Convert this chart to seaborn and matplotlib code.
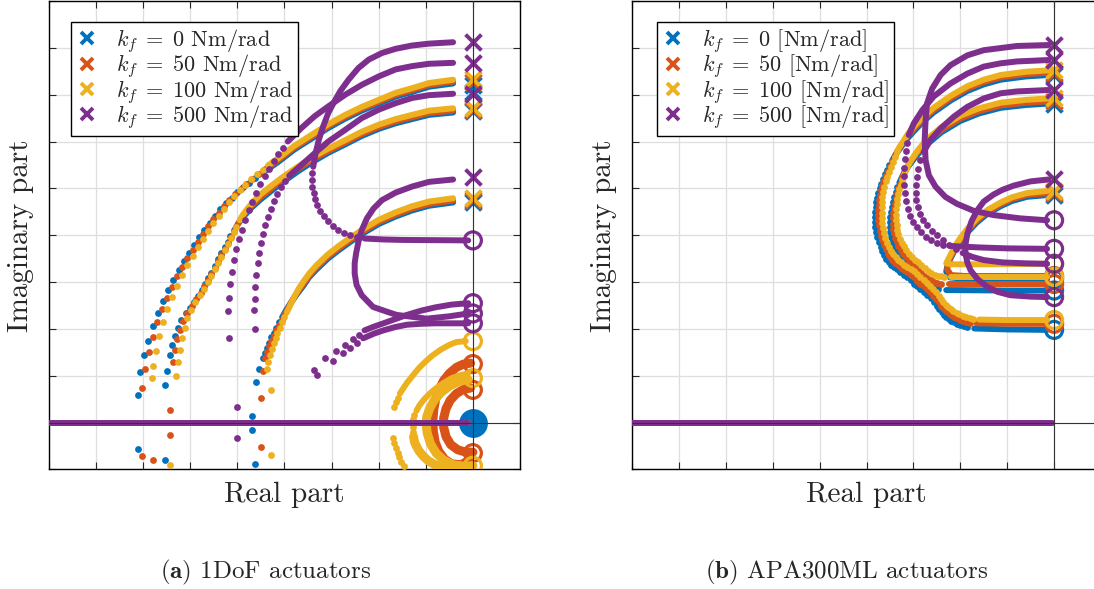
import numpy as np
import pandas as pd
import seaborn as sns
import matplotlib.pyplot as plt
from matplotlib.lines import Line2D

BLUE, ORANGE, YELLOW, PURPLE = '#0072BD', '#D95319', '#EDB120', '#7E2F8E'
kf_values = [0, 50, 100, 500]

# ---------------- (a) 1DoF actuators ----------------
a_axis = [(-9.0, 0.0), (-0.1, 0.0)]

a_blue_poles = [7.2, 7.05, 6.65, 4.72]
a_blue_zeros = [0.0]
a_blue_A_line = [(-0.42, 7.24), (-0.93, 7.17), (-1.29, 7.06), (-1.64, 6.96), (-2.0, 6.81), (-2.36, 6.66),
                 (-2.71, 6.49), (-3.07, 6.29), (-3.43, 6.06), (-3.79, 5.83), (-4.14, 5.56), (-4.5, 5.31)]
a_blue_A_dots = [(-4.62, 5.22), (-4.75, 5.12), (-4.88, 5.02), (-5.0, 4.92), (-5.12, 4.8), (-5.24, 4.68), (-5.36, 4.55),
                 (-5.48, 4.41), (-5.59, 4.27), (-5.7, 4.12), (-5.81, 3.96), (-5.92, 3.8), (-6.03, 3.62), (-6.14, 3.44),
                 (-6.25, 3.25), (-6.36, 3.05), (-6.47, 2.83), (-6.58, 2.6), (-6.69, 2.35), (-6.8, 2.06), (-6.9, 1.75),
                 (-6.98, 1.44), (-7.06, 1.09), (-7.12, 0.6), (-7.12, -0.57)]
a_blue_B_line = [(-0.42, 6.62), (-0.93, 6.57), (-1.29, 6.48), (-1.64, 6.39), (-2.0, 6.27), (-2.36, 6.12),
                 (-2.71, 5.94), (-3.07, 5.76), (-3.43, 5.55), (-3.72, 5.36), (-4.0, 5.16), (-4.25, 4.97),
                 (-4.5, 4.77), (-4.7, 4.59), (-4.86, 4.41), (-4.98, 4.25), (-5.07, 4.1)]
a_blue_B_dots = [(-5.15, 3.98), (-5.21, 3.86), (-5.27, 3.75), (-5.34, 3.62), (-5.41, 3.5), (-5.48, 3.35),
                 (-5.55, 3.2), (-5.62, 3.08), (-5.69, 2.97), (-5.76, 2.84), (-5.83, 2.7), (-5.92, 2.57),
                 (-6.0, 2.45), (-6.1, 2.33), (-6.2, 2.2), (-6.27, 2.02), (-6.33, 1.85), (-6.38, 1.65),
                 (-6.43, 1.44), (-6.5, 1.1), (-6.54, 0.8), (-6.54, -0.8)]
a_blue_C_line = [(-0.42, 4.7), (-0.93, 4.63), (-1.29, 4.53), (-1.64, 4.4), (-2.0, 4.24), (-2.3, 4.06), (-2.6, 3.86),
                 (-2.85, 3.68), (-3.08, 3.5), (-3.32, 3.27), (-3.48, 3.1), (-3.6, 2.92), (-3.73, 2.75),
                 (-3.85, 2.58), (-3.96, 2.41), (-4.05, 2.25)]
a_blue_C_dots = [(-4.11, 2.14), (-4.17, 2.03), (-4.23, 1.92), (-4.28, 1.82), (-4.33, 1.71), (-4.38, 1.6),
                 (-4.42, 1.49), (-4.46, 1.38), (-4.54, 1.14), (-4.61, 0.87), (-4.7, 0.15), (-4.7, -0.15),
                 (-4.63, -0.88)]

a_orange_poles = [7.28, 6.68, 4.76]
a_orange_zeros = [1.25, 0.7, -0.65]
a_orange_A_line = [(-0.42, 7.28), (-0.93, 7.21), (-1.29, 7.1), (-1.64, 7.0), (-2.0, 6.85), (-2.36, 6.7),
                   (-2.71, 6.53), (-3.07, 6.33), (-3.43, 6.1), (-3.79, 5.87), (-4.14, 5.6), (-4.45, 5.38)]
a_orange_A_dots = [(-4.55, 5.3), (-4.68, 5.2), (-4.81, 5.1), (-4.93, 4.99), (-5.05, 4.87), (-5.17, 4.75),
                   (-5.29, 4.62), (-5.4, 4.48), (-5.51, 4.34), (-5.62, 4.19), (-5.73, 4.03), (-5.84, 3.86),
                   (-5.95, 3.69), (-6.06, 3.51), (-6.17, 3.32), (-6.28, 3.12), (-6.39, 2.9), (-6.5, 2.67),
                   (-6.6, 2.42), (-6.7, 2.14), (-6.8, 1.83), (-6.88, 1.5), (-6.96, 1.15), (-7.03, 0.75),
                   (-7.03, -0.72)]
a_orange_B_line = [(-0.42, 6.66), (-0.93, 6.61), (-1.29, 6.52), (-1.64, 6.43), (-2.0, 6.31), (-2.36, 6.16),
                   (-2.71, 5.98), (-3.07, 5.8), (-3.43, 5.6), (-3.72, 5.41), (-4.0, 5.22), (-4.25, 5.02),
                   (-4.5, 4.82), (-4.68, 4.65), (-4.83, 4.48), (-4.93, 4.34), (-5.0, 4.22)]
a_orange_B_dots = [(-5.08, 4.08), (-5.14, 3.96), (-5.2, 3.84), (-5.27, 3.71), (-5.34, 3.58), (-5.41, 3.44),
                   (-5.48, 3.3), (-5.55, 3.17), (-5.62, 3.05), (-5.7, 2.91), (-5.78, 2.77), (-5.87, 2.63),
                   (-5.96, 2.49), (-6.06, 2.35), (-6.15, 2.18), (-6.22, 1.98), (-6.28, 1.78), (-6.33, 1.55),
                   (-6.37, 1.3), (-6.43, 0.27), (-6.43, -0.27), (-6.79, -0.8)]
a_orange_C_line = [(-0.42, 4.74), (-0.93, 4.67), (-1.29, 4.57), (-1.64, 4.44), (-2.0, 4.28), (-2.3, 4.1),
                   (-2.6, 3.9), (-2.85, 3.72), (-3.08, 3.54), (-3.32, 3.31), (-3.47, 3.14), (-3.6, 2.96),
                   (-3.72, 2.79), (-3.83, 2.62), (-3.92, 2.45), (-4.0, 2.3)]
a_orange_C_dots = [(-4.06, 2.19), (-4.12, 2.08), (-4.18, 1.97), (-4.23, 1.86), (-4.28, 1.75), (-4.33, 1.63),
                   (-4.37, 1.51), (-4.41, 1.38), (-4.45, 1.1), (-4.49, 0.52), (-4.49, -0.51)]
a_orange_C1 = [(-0.05, 1.27), (-0.2, 1.25), (-0.35, 1.18), (-0.5, 1.05), (-0.62, 0.9), (-0.72, 0.7), (-0.79, 0.5),
               (-0.83, 0.28), (-0.85, 0.05), (-0.84, -0.18), (-0.8, -0.42), (-0.72, -0.62), (-0.6, -0.78),
               (-0.45, -0.88), (-0.25, -0.9), (-0.08, -0.8)]
a_orange_C2 = [(-0.05, 0.74), (-0.2, 0.71), (-0.35, 0.62), (-0.48, 0.48), (-0.57, 0.3), (-0.62, 0.1), (-0.62, -0.1),
               (-0.57, -0.3), (-0.47, -0.47), (-0.32, -0.58), (-0.15, -0.63), (0.0, -0.63)]

a_yellow_poles = [7.33, 6.71, 4.8]
a_yellow_zeros = [1.74, 0.95, -0.92]
a_yellow_A_line = [(-0.42, 7.32), (-0.93, 7.25), (-1.29, 7.14), (-1.64, 7.04), (-2.0, 6.89), (-2.36, 6.74),
                   (-2.71, 6.57), (-3.07, 6.37), (-3.43, 6.14), (-3.79, 5.91), (-4.14, 5.64), (-4.35, 5.49)]
a_yellow_A_dots = [(-4.45, 5.4), (-4.58, 5.3), (-4.71, 5.19), (-4.83, 5.08), (-4.95, 4.96), (-5.07, 4.83),
                   (-5.18, 4.7), (-5.29, 4.56), (-5.4, 4.41), (-5.51, 4.26), (-5.62, 4.1), (-5.73, 3.93),
                   (-5.84, 3.75), (-5.95, 3.56), (-6.06, 3.36), (-6.17, 3.15), (-6.28, 2.92), (-6.39, 2.68),
                   (-6.49, 2.42), (-6.58, 2.14), (-6.66, 1.84), (-6.73, 1.52), (-6.8, 1.2), (-6.82, 0.95),
                   (-6.43, -0.9)]
a_yellow_B_line = [(-0.42, 6.71), (-0.93, 6.66), (-1.29, 6.57), (-1.64, 6.48), (-2.0, 6.36), (-2.36, 6.21),
                   (-2.71, 6.03), (-3.07, 5.85), (-3.43, 5.65), (-3.72, 5.46), (-4.0, 5.27), (-4.25, 5.08),
                   (-4.5, 4.88), (-4.66, 4.72), (-4.8, 4.55), (-4.89, 4.43), (-4.95, 4.32)]
a_yellow_B_dots = [(-5.02, 4.18), (-5.08, 4.06), (-5.14, 3.94), (-5.2, 3.81), (-5.27, 3.68), (-5.34, 3.54),
                   (-5.41, 3.4), (-5.48, 3.27), (-5.55, 3.14), (-5.63, 3.0), (-5.71, 2.86), (-5.8, 2.72),
                   (-5.89, 2.57), (-5.98, 2.41), (-6.06, 2.23), (-6.12, 2.03), (-6.17, 1.8), (-6.22, 1.55),
                   (-6.26, 1.3), (-6.3, 1.0)]
a_yellow_C_line = [(-0.42, 4.79), (-0.93, 4.72), (-1.29, 4.62), (-1.64, 4.49), (-2.0, 4.33), (-2.3, 4.15),
                   (-2.6, 3.95), (-2.85, 3.77), (-3.08, 3.59), (-3.32, 3.36), (-3.47, 3.19), (-3.6, 3.01),
                   (-3.71, 2.84), (-3.8, 2.67), (-3.88, 2.5), (-3.95, 2.35)]
a_yellow_C_dots = [(-4.0, 2.25), (-4.05, 2.14), (-4.1, 2.03), (-4.15, 1.92), (-4.19, 1.81), (-4.23, 1.69),
                   (-4.27, 1.57), (-4.31, 1.44), (-4.35, 1.3), (-4.38, 1.15), (-4.28, 0.7), (-4.28, -0.69)]
a_yellow_Y1_line = [(-0.15, 1.74), (-0.35, 1.72), (-0.5, 1.66), (-0.68, 1.56), (-0.85, 1.44), (-1.0, 1.31),
                    (-1.15, 1.16), (-1.28, 1.0), (-1.4, 0.85), (-1.48, 0.73), (-1.55, 0.62)]
a_yellow_Y1_dots = [(-1.6, 0.53), (-1.64, 0.44), (-1.68, 0.34), (-1.69, -0.33), (-1.67, -0.44), (-1.64, -0.55),
                    (-1.6, -0.65), (-1.56, -0.74), (-1.52, -0.83), (-1.47, -0.93)]
a_yellow_Y2_line = [(-0.1, 1.05), (-0.28, 1.01), (-0.45, 0.95), (-0.62, 0.85), (-0.8, 0.72), (-0.93, 0.61),
                    (-1.05, 0.48), (-1.14, 0.36), (-1.2, 0.25)]
a_yellow_Y2_dots = [(-1.24, 0.16), (-1.27, 0.07), (-1.28, -0.1), (-1.28, -0.2)]
a_yellow_Y2_low = [(-1.26, -0.3), (-1.24, -0.41), (-1.2, -0.5), (-1.14, -0.61), (-1.05, -0.72), (-0.94, -0.82),
                   (-0.8, -0.9), (-0.62, -0.96), (-0.45, -1.0)]
a_yellow_Y3 = [(-0.1, 0.92), (-0.3, 0.88), (-0.5, 0.78), (-0.68, 0.64), (-0.82, 0.48), (-0.92, 0.3), (-0.98, 0.12),
               (-0.99, -0.05), (-0.97, -0.22), (-0.9, -0.45), (-0.78, -0.65), (-0.62, -0.8), (-0.42, -0.9),
               (-0.2, -0.93), (0.0, -0.92)]

a_purple_poles = [8.12, 7.68, 7.02, 5.25]
a_purple_zeros = [3.89, 2.55, 2.33, 2.12]
a_purple_P1_line = [(-0.42, 8.12), (-0.93, 8.09), (-1.29, 8.05), (-1.64, 7.98), (-1.93, 7.89), (-2.21, 7.75),
                    (-2.43, 7.57), (-2.64, 7.32), (-2.82, 7.07), (-2.96, 6.82), (-3.07, 6.61), (-3.18, 6.32),
                    (-3.27, 6.04), (-3.34, 5.75), (-3.39, 5.46)]
a_purple_P1_dots = [(-3.42, 5.32), (-3.42, 5.18), (-3.41, 5.04), (-3.38, 4.9), (-3.35, 4.77), (-3.3, 4.64),
                    (-3.24, 4.52), (-3.16, 4.41), (-3.07, 4.3), (-2.97, 4.2), (-2.86, 4.12), (-2.74, 4.05),
                    (-2.6, 4.0), (-2.46, 3.96)]
a_purple_P1_tail = [(-2.3, 3.93), (-1.9, 3.91), (-1.5, 3.9), (-0.1, 3.89)]
a_purple_P2_line = [(-0.42, 7.68), (-0.93, 7.66), (-1.29, 7.61), (-1.64, 7.54), (-2.0, 7.39), (-2.36, 7.21),
                    (-2.71, 7.0), (-3.07, 6.75), (-3.36, 6.54), (-3.64, 6.29), (-3.93, 6.0)]
a_purple_P2_dots = [(-4.03, 5.87), (-4.13, 5.73), (-4.23, 5.58), (-4.33, 5.42), (-4.42, 5.26), (-4.51, 5.09),
                    (-4.6, 4.91), (-4.68, 4.72), (-4.76, 4.53), (-4.84, 4.33), (-4.91, 4.12), (-4.97, 3.92),
                    (-5.03, 3.7), (-5.08, 3.47), (-5.12, 3.22), (-5.15, 2.95), (-5.18, 2.67), (-5.2, 2.38),
                    (-5.17, 1.8), (-5.0, 0.33), (-5.0, -0.33)]
a_purple_P3_line = [(-0.42, 7.02), (-0.93, 6.99), (-1.29, 6.93), (-1.64, 6.82), (-2.0, 6.68), (-2.36, 6.5),
                    (-2.71, 6.25), (-3.07, 6.0), (-3.36, 5.75), (-3.64, 5.5), (-3.9, 5.27)]
a_purple_P3_dots = [(-3.99, 5.15), (-4.07, 5.02), (-4.15, 4.88), (-4.22, 4.73), (-4.29, 4.57), (-4.35, 4.4),
                    (-4.41, 4.22), (-4.46, 4.03), (-4.5, 3.83), (-4.54, 3.62), (-4.57, 3.4), (-4.6, 3.16),
                    (-4.62, 2.9), (-4.63, 2.64), (-4.64, 2.4), (-4.63, 2.0)]
a_purple_P4_line = [(-0.42, 5.19), (-0.93, 5.14), (-1.29, 5.04), (-1.64, 4.91), (-1.93, 4.75), (-2.11, 4.57),
                    (-2.25, 4.36), (-2.36, 4.11), (-2.43, 3.86), (-2.48, 3.61), (-2.51, 3.4), (-2.51, 3.18),
                    (-2.47, 2.94), (-2.36, 2.72), (-2.12, 2.47), (-1.83, 2.37), (-1.62, 2.3), (-0.98, 2.22),
                    (-0.5, 2.27), (-0.1, 2.33)]
a_purple_T1_dots = [(-3.38, 1.12), (-3.13, 1.37), (-2.9, 1.53), (-2.72, 1.65), (-2.55, 1.78), (-2.42, 1.88)]
a_purple_T1_line = [(-2.3, 1.97), (-2.1, 2.05), (-1.9, 2.12), (-1.65, 2.21), (-1.4, 2.3), (-1.1, 2.39),
                    (-0.8, 2.46), (-0.45, 2.52), (-0.1, 2.55)]
a_purple_T2_dots = [(-3.31, 1.02), (-2.98, 1.32), (-2.76, 1.48), (-2.6, 1.6), (-2.47, 1.7)]
a_purple_T2_line = [(-2.33, 1.8), (-2.1, 1.9), (-1.9, 1.97), (-1.65, 2.04), (-1.4, 2.09), (-1.1, 2.11),
                    (-0.8, 2.12), (-0.1, 2.12)]

# ---------------- (b) APA300ML actuators ----------------
b_axis = [(-9.0, 0.0), (-0.05, 0.0)]

b_blue_poles = [7.42, 6.81, 4.86]
b_blue_zeros = [1.98, 2.82, 3.06]
b_blue_R1_line = [(-0.12, 7.42), (-0.6, 7.39), (-1.14, 7.32), (-1.5, 7.22), (-1.85, 7.08), (-2.2, 6.88),
                  (-2.57, 6.62), (-2.8, 6.42), (-2.99, 6.22), (-3.15, 6.04), (-3.28, 5.86), (-3.38, 5.72),
                  (-3.45, 5.6)]
b_blue_R1_dots = [(-3.51, 5.5), (-3.56, 5.4), (-3.61, 5.3), (-3.65, 5.2), (-3.69, 5.1), (-3.72, 5.0), (-3.75, 4.9),
                  (-3.77, 4.8), (-3.79, 4.7), (-3.8, 4.6), (-3.81, 4.5), (-3.81, 4.39), (-3.81, 4.28),
                  (-3.81, 4.18), (-3.8, 4.07), (-3.77, 3.96), (-3.74, 3.85), (-3.7, 3.75), (-3.67, 3.66),
                  (-3.63, 3.57), (-3.58, 3.5), (-3.53, 3.43), (-3.48, 3.37), (-3.42, 3.32), (-3.35, 3.27),
                  (-3.28, 3.22), (-3.2, 3.16), (-3.13, 3.11), (-3.06, 3.04), (-2.99, 2.97), (-2.92, 2.91),
                  (-2.85, 2.85), (-2.77, 2.78), (-2.7, 2.72), (-2.63, 2.65), (-2.56, 2.57), (-2.5, 2.5),
                  (-2.45, 2.43), (-2.4, 2.36), (-2.35, 2.3), (-2.3, 2.26), (-2.25, 2.22), (-2.2, 2.18),
                  (-2.14, 2.15), (-2.07, 2.11), (-2.0, 2.08), (-1.92, 2.06), (-1.85, 2.04)]
b_blue_R1_tail = [(-1.7, 2.01), (-1.0, 1.99), (-0.15, 1.98)]
b_blue_R2_line = [(-0.12, 6.81), (-0.6, 6.78), (-1.14, 6.72), (-1.6, 6.6), (-2.0, 6.44), (-2.4, 6.2),
                  (-2.71, 5.94), (-2.95, 5.68), (-3.13, 5.44), (-3.23, 5.27), (-3.3, 5.12)]
b_blue_R2_dots = [(-3.34, 5.02), (-3.38, 4.92), (-3.41, 4.82), (-3.44, 4.72), (-3.46, 4.61), (-3.48, 4.5),
                  (-3.49, 4.39), (-3.5, 4.28), (-3.5, 4.17), (-3.49, 4.06), (-3.47, 3.96), (-3.45, 3.86),
                  (-3.42, 3.77), (-3.38, 3.68), (-3.33, 3.6), (-3.28, 3.52), (-3.22, 3.45), (-3.15, 3.38),
                  (-3.09, 3.31), (-3.02, 3.24), (-2.95, 3.17), (-2.88, 3.1), (-2.82, 3.04), (-2.75, 2.98),
                  (-2.68, 2.94), (-2.62, 2.9), (-2.55, 2.87), (-2.48, 2.85)]
b_blue_R2_tail = [(-2.3, 2.83), (-1.0, 2.82), (-0.15, 2.82)]
b_blue_R3_line = [(-0.12, 4.86), (-0.58, 4.82), (-0.9, 4.73), (-1.14, 4.62), (-1.42, 4.46), (-1.64, 4.28),
                  (-1.84, 4.07), (-2.0, 3.86), (-2.12, 3.68), (-2.21, 3.5), (-2.28, 3.33), (-2.3, 3.22),
                  (-2.22, 3.1), (-1.9, 3.07), (-0.15, 3.06)]

b_orange_poles = [7.47, 6.86, 4.9]
b_orange_zeros = [2.11, 2.96, 3.13]
b_orange_R1_line = [(-0.12, 7.47), (-0.6, 7.44), (-1.14, 7.37), (-1.5, 7.27), (-1.85, 7.13), (-2.2, 6.93),
                    (-2.57, 6.67), (-2.8, 6.47), (-2.99, 6.27), (-3.14, 6.1), (-3.25, 5.93), (-3.34, 5.8),
                    (-3.4, 5.68)]
b_orange_R1_dots = [(-3.45, 5.58), (-3.5, 5.48), (-3.55, 5.38), (-3.59, 5.28), (-3.63, 5.17), (-3.66, 5.07),
                    (-3.69, 4.96), (-3.71, 4.86), (-3.73, 4.75), (-3.74, 4.65), (-3.75, 4.54), (-3.75, 4.43),
                    (-3.75, 4.32), (-3.74, 4.21), (-3.72, 4.1), (-3.7, 3.99), (-3.67, 3.89), (-3.63, 3.79),
                    (-3.59, 3.7), (-3.55, 3.61), (-3.5, 3.54), (-3.45, 3.47), (-3.39, 3.41), (-3.33, 3.36),
                    (-3.26, 3.31), (-3.2, 3.26), (-3.13, 3.21), (-3.06, 3.16), (-2.99, 3.1), (-2.92, 3.03),
                    (-2.85, 2.97), (-2.78, 2.91), (-2.71, 2.85), (-2.64, 2.78), (-2.58, 2.71), (-2.52, 2.64),
                    (-2.46, 2.57), (-2.41, 2.5), (-2.36, 2.44), (-2.31, 2.38), (-2.25, 2.34), (-2.2, 2.3),
                    (-2.14, 2.26), (-2.08, 2.23), (-2.01, 2.2), (-1.95, 2.17), (-1.88, 2.15), (-1.8, 2.13)]
b_orange_R1_tail = [(-1.65, 2.12), (-1.0, 2.11), (-0.15, 2.11)]
b_orange_R2_line = [(-0.12, 6.86), (-0.6, 6.83), (-1.14, 6.77), (-1.6, 6.65), (-2.0, 6.49), (-2.4, 6.25),
                    (-2.71, 5.99), (-2.93, 5.75), (-3.1, 5.52), (-3.19, 5.35), (-3.25, 5.2)]
b_orange_R2_dots = [(-3.29, 5.1), (-3.32, 5.0), (-3.35, 4.9), (-3.38, 4.8), (-3.4, 4.69), (-3.42, 4.58),
                    (-3.43, 4.47), (-3.44, 4.36), (-3.44, 4.25), (-3.43, 4.14), (-3.41, 4.04), (-3.39, 3.94),
                    (-3.36, 3.85), (-3.32, 3.76), (-3.27, 3.68), (-3.22, 3.6), (-3.16, 3.53), (-3.1, 3.46),
                    (-3.04, 3.39), (-2.97, 3.33), (-2.9, 3.26), (-2.83, 3.2), (-2.77, 3.14), (-2.7, 3.08),
                    (-2.63, 3.04), (-2.56, 3.0), (-2.49, 2.98), (-2.42, 2.97)]
b_orange_R2_tail = [(-2.25, 2.96), (-1.0, 2.96), (-0.15, 2.96)]
b_orange_R3_line = [(-0.12, 4.9), (-0.58, 4.86), (-0.9, 4.77), (-1.14, 4.66), (-1.42, 4.5), (-1.64, 4.32),
                    (-1.84, 4.11), (-2.0, 3.9), (-2.11, 3.72), (-2.2, 3.55), (-2.26, 3.39), (-2.28, 3.28),
                    (-2.2, 3.15), (-1.9, 3.13), (-0.15, 3.13)]

b_yellow_poles = [7.52, 6.92, 4.95]
b_yellow_zeros = [2.19, 3.11, 3.39]
b_yellow_R1_line = [(-0.12, 7.52), (-0.6, 7.49), (-1.14, 7.42), (-1.5, 7.32), (-1.85, 7.18), (-2.2, 6.98),
                    (-2.57, 6.72), (-2.8, 6.52), (-2.99, 6.32), (-3.12, 6.16), (-3.22, 6.0), (-3.3, 5.88),
                    (-3.35, 5.76)]
b_yellow_R1_dots = [(-3.4, 5.66), (-3.44, 5.56), (-3.48, 5.46), (-3.52, 5.36), (-3.56, 5.25), (-3.59, 5.15),
                    (-3.62, 5.04), (-3.64, 4.93), (-3.66, 4.82), (-3.67, 4.71), (-3.68, 4.6), (-3.68, 4.48),
                    (-3.68, 4.37), (-3.67, 4.26), (-3.65, 4.15), (-3.63, 4.04), (-3.6, 3.94), (-3.56, 3.84),
                    (-3.52, 3.75), (-3.48, 3.67), (-3.43, 3.6), (-3.38, 3.53), (-3.32, 3.47), (-3.26, 3.42),
                    (-3.19, 3.37), (-3.13, 3.33), (-3.06, 3.28), (-2.99, 3.23), (-2.92, 3.17), (-2.85, 3.11),
                    (-2.78, 3.04), (-2.71, 2.98), (-2.64, 2.91), (-2.58, 2.85), (-2.52, 2.78), (-2.46, 2.71),
                    (-2.41, 2.64), (-2.36, 2.58), (-2.31, 2.52), (-2.26, 2.46), (-2.2, 2.42), (-2.15, 2.38),
                    (-2.08, 2.34), (-2.02, 2.31), (-1.95, 2.28), (-1.88, 2.25), (-1.8, 2.23), (-1.73, 2.22)]
b_yellow_R1_tail = [(-1.6, 2.2), (-1.0, 2.19), (-0.15, 2.19)]
b_yellow_R2_line = [(-0.12, 6.92), (-0.6, 6.89), (-1.14, 6.83), (-1.6, 6.71), (-2.0, 6.55), (-2.4, 6.31),
                    (-2.71, 6.05), (-2.9, 5.82), (-3.05, 5.6), (-3.14, 5.43), (-3.2, 5.28)]
b_yellow_R2_dots = [(-3.24, 5.18), (-3.27, 5.08), (-3.3, 4.98), (-3.32, 4.88), (-3.34, 4.77), (-3.36, 4.66),
                    (-3.37, 4.55), (-3.37, 4.44), (-3.37, 4.33), (-3.36, 4.22), (-3.34, 4.12), (-3.32, 4.02),
                    (-3.29, 3.93), (-3.25, 3.84), (-3.2, 3.76), (-3.15, 3.68), (-3.09, 3.61), (-3.03, 3.54),
                    (-2.97, 3.48), (-2.9, 3.42), (-2.83, 3.36), (-2.76, 3.3), (-2.69, 3.24), (-2.62, 3.19),
                    (-2.55, 3.15), (-2.48, 3.13), (-2.41, 3.12), (-2.35, 3.11)]
b_yellow_R2_tail = [(-2.2, 3.11), (-1.0, 3.11), (-0.15, 3.11)]
b_yellow_R3_line = [(-0.12, 4.95), (-0.58, 4.9), (-0.9, 4.81), (-1.14, 4.7), (-1.42, 4.54), (-1.64, 4.36),
                    (-1.84, 4.15), (-2.0, 3.94), (-2.12, 3.76), (-2.21, 3.58), (-2.27, 3.46), (-2.3, 3.4),
                    (-2.2, 3.38), (-1.5, 3.38), (-0.15, 3.39)]

b_purple_poles = [8.06, 7.74, 7.1, 5.21]
b_purple_zeros = [4.32, 3.71, 3.39, 2.68]
b_purple_Q1_line = [(-0.12, 8.06), (-0.79, 8.04), (-1.5, 7.95), (-1.85, 7.84), (-2.21, 7.63), (-2.42, 7.42),
                    (-2.6, 7.13), (-2.71, 6.81), (-2.74, 6.46), (-2.76, 6.03), (-2.74, 5.6), (-2.67, 5.28),
                    (-2.53, 5.04), (-2.32, 4.82), (-2.07, 4.67), (-1.71, 4.52), (-1.29, 4.43), (-0.72, 4.36),
                    (-0.15, 4.32)]
b_purple_Q2_line = [(-0.12, 7.74), (-0.79, 7.71), (-1.14, 7.67), (-1.5, 7.6), (-1.85, 7.45), (-2.21, 7.24),
                    (-2.57, 6.96), (-2.81, 6.67), (-2.99, 6.39), (-3.1, 6.14)]
b_purple_Q2_dots = [(-3.13, 5.97), (-3.16, 5.8), (-3.18, 5.62), (-3.2, 5.44), (-3.2, 5.26), (-3.2, 5.08),
                    (-3.18, 4.91), (-3.16, 4.74), (-3.12, 4.57), (-3.07, 4.42), (-3.0, 4.29), (-2.92, 4.17),
                    (-2.83, 4.06), (-2.73, 3.97), (-2.62, 3.9), (-2.5, 3.84), (-2.37, 3.8)]
b_purple_Q2_tail = [(-2.2, 3.77), (-1.6, 3.74), (-1.0, 3.72), (-0.15, 3.71)]
b_purple_Q3_line = [(-0.12, 7.1), (-0.79, 7.07), (-1.14, 7.03), (-1.5, 6.92), (-1.85, 6.74), (-2.14, 6.53),
                    (-2.42, 6.28), (-2.64, 6.03), (-2.78, 5.78)]
b_purple_Q3_dots = [(-2.85, 5.6), (-2.9, 5.42), (-2.93, 5.25), (-2.95, 5.08), (-2.95, 4.91), (-2.94, 4.75),
                    (-2.91, 4.6), (-2.86, 4.46), (-2.79, 4.33), (-2.7, 4.21), (-2.6, 4.1), (-2.49, 4.0),
                    (-2.37, 3.9), (-2.24, 3.8), (-2.1, 3.7)]
b_purple_Q3_tail = [(-1.95, 3.62), (-1.75, 3.54), (-1.5, 3.47), (-1.1, 3.42), (-0.6, 3.4), (-0.15, 3.39)]
b_purple_Q4_line = [(-0.12, 5.19), (-0.5, 5.15), (-0.86, 5.06), (-1.1, 4.97), (-1.29, 4.87), (-1.5, 4.72),
                    (-1.64, 4.53), (-1.76, 4.3), (-1.85, 4.03), (-1.89, 3.8), (-1.89, 3.61), (-1.85, 3.42),
                    (-1.78, 3.25), (-1.63, 3.06), (-1.43, 2.9), (-1.2, 2.79), (-0.93, 2.72), (-0.5, 2.69),
                    (-0.15, 2.68)]

# ---------------- style ----------------
sns.set_style('ticks')
plt.rcParams['font.family'] = ['serif']
plt.rcParams['font.serif'] = ['cmr10', 'DejaVu Serif']
plt.rcParams['mathtext.fontset'] = 'cm'
plt.rcParams['axes.formatter.use_mathtext'] = True
plt.rcParams['axes.unicode_minus'] = False

LW = 4.3
DOT_S = 24


def draw_line(ax, pts, color, z, lw=LW):
    df = pd.DataFrame(pts, columns=['re', 'im'])
    sns.lineplot(data=df, x='re', y='im', sort=False, estimator=None, color=color, lw=lw,
                 solid_capstyle='round', solid_joinstyle='round', ax=ax, zorder=z, legend=False)


def draw_dots(ax, pts, color, z):
    df = pd.DataFrame(pts, columns=['re', 'im'])
    sns.scatterplot(data=df, x='re', y='im', color=color, s=DOT_S, linewidth=0, ax=ax, zorder=z, legend=False)


def draw_marks(ax, poles, zeros, color, z, filled_zero=False):
    pdf = pd.DataFrame({'re': np.zeros(len(poles)), 'im': poles})
    sns.scatterplot(data=pdf, x='re', y='im', color=color, marker='x', s=130, linewidth=2.8,
                    ax=ax, zorder=z, legend=False)
    zdf = pd.DataFrame({'re': np.zeros(len(zeros)), 'im': zeros})
    if filled_zero:
        sns.scatterplot(data=zdf, x='re', y='im', color=color, s=430, linewidth=0, ax=ax, zorder=z, legend=False)
    else:
        sns.scatterplot(data=zdf, x='re', y='im', facecolor='none', edgecolor=color, s=150, linewidth=2.3,
                        ax=ax, zorder=z, legend=False)


def style_axes(ax):
    ax.set_xlim(-9, 1)
    ax.set_ylim(-1, 9)
    ax.set_xticks(np.arange(-9, 2))
    ax.set_yticks(np.arange(-1, 10))
    ax.tick_params(direction='in', length=5, width=0.8, top=True, right=True,
                   labelbottom=False, labelleft=False)
    ax.grid(True, color='#dedede', lw=0.9)
    ax.set_axisbelow(True)
    for sp in ax.spines.values():
        sp.set_linewidth(1.0)
        sp.set_color('black')
    ax.axhline(0, color='#333333', lw=0.8, zorder=30)
    ax.axvline(0, color='#333333', lw=0.8, zorder=30)
    ax.set_xlabel('Real part', fontsize=21, labelpad=9)
    ax.set_ylabel('Imaginary part', fontsize=21, labelpad=11)


fig = plt.figure(figsize=(10.94, 5.89), dpi=100)
ax_a = fig.add_axes([0.0448, 0.2029, 0.4305, 0.7954])
ax_b = fig.add_axes([0.5777, 0.2029, 0.4287, 0.7954])

# panel (a)
a_groups = [
    (BLUE, [a_blue_A_line, a_blue_B_line, a_blue_C_line], [],
     [a_blue_A_dots, a_blue_B_dots, a_blue_C_dots], a_blue_poles, a_blue_zeros),
    (ORANGE, [a_orange_A_line, a_orange_B_line, a_orange_C_line], [a_orange_C1, a_orange_C2],
     [a_orange_A_dots, a_orange_B_dots, a_orange_C_dots], a_orange_poles, a_orange_zeros),
    (YELLOW, [a_yellow_A_line, a_yellow_B_line, a_yellow_C_line, a_yellow_Y1_line, a_yellow_Y2_line],
     [a_yellow_Y2_low, a_yellow_Y3],
     [a_yellow_A_dots, a_yellow_B_dots, a_yellow_C_dots, a_yellow_Y1_dots, a_yellow_Y2_dots],
     a_yellow_poles, a_yellow_zeros),
    (PURPLE, [a_purple_P1_line, a_purple_P1_tail, a_purple_P2_line, a_purple_P3_line, a_purple_P4_line,
              a_purple_T1_line, a_purple_T2_line], [],
     [a_purple_P1_dots, a_purple_P2_dots, a_purple_P3_dots, a_purple_T1_dots, a_purple_T2_dots],
     a_purple_poles, a_purple_zeros),
]
for i, (col, lines, thick, dots, poles, zeros) in enumerate(a_groups):
    z = 3 + 2 * i
    draw_line(ax_a, a_axis, col, z)
    for seg in lines:
        draw_line(ax_a, seg, col, z)
    for seg in thick:
        draw_line(ax_a, seg, col, z, lw=6.5)
    for seg in dots:
        draw_dots(ax_a, seg, col, z)
    draw_marks(ax_a, poles, zeros, col, z + 1, filled_zero=(col == BLUE))

# panel (b)
b_groups = [
    (BLUE, [b_blue_R1_line, b_blue_R1_tail, b_blue_R2_line, b_blue_R2_tail, b_blue_R3_line],
     [b_blue_R1_dots, b_blue_R2_dots], b_blue_poles, b_blue_zeros),
    (ORANGE, [b_orange_R1_line, b_orange_R1_tail, b_orange_R2_line, b_orange_R2_tail, b_orange_R3_line],
     [b_orange_R1_dots, b_orange_R2_dots], b_orange_poles, b_orange_zeros),
    (YELLOW, [b_yellow_R1_line, b_yellow_R1_tail, b_yellow_R2_line, b_yellow_R2_tail, b_yellow_R3_line],
     [b_yellow_R1_dots, b_yellow_R2_dots], b_yellow_poles, b_yellow_zeros),
    (PURPLE, [b_purple_Q1_line, b_purple_Q2_line, b_purple_Q2_tail, b_purple_Q3_line, b_purple_Q3_tail,
              b_purple_Q4_line],
     [b_purple_Q2_dots, b_purple_Q3_dots], b_purple_poles, b_purple_zeros),
]
for i, (col, lines, dots, poles, zeros) in enumerate(b_groups):
    z = 3 + 2 * i
    draw_line(ax_b, b_axis, col, z)
    for seg in lines:
        draw_line(ax_b, seg, col, z)
    for seg in dots:
        draw_dots(ax_b, seg, col, z)
    draw_marks(ax_b, poles, zeros, col, z + 1)

for ax in (ax_a, ax_b):
    style_axes(ax)

colors = [BLUE, ORANGE, YELLOW, PURPLE]
for ax, fmt, x0 in ((ax_a, r'$k_f\;=\;{}$ Nm/rad', 0.047), (ax_b, r'$k_f\;=\;{}$ [Nm/rad]', 0.053)):
    handles = [Line2D([], [], color=c, marker='x', linestyle='none', markersize=9, markeredgewidth=2.8)
               for c in colors]
    labels = [fmt.format(k) for k in kf_values]
    leg = ax.legend(handles, labels, loc='upper left', bbox_to_anchor=(x0, 0.955), borderaxespad=0,
                    fontsize=16, handlelength=1.0, handletextpad=0.8, labelspacing=-0.12, borderpad=0.22,
                    fancybox=False, framealpha=1, edgecolor='black')
    leg.get_frame().set_linewidth(1.0)
    leg.set_zorder(40)

fig.text(266 / 1094, 1 - 578 / 589, r'$\mathbf{(a)}$ 1DoF actuators', ha='center', va='baseline', fontsize=18)
fig.text(847 / 1094, 1 - 578 / 589, r'$\mathbf{(b)}$ APA300ML actuators', ha='center', va='baseline', fontsize=18)

fig.savefig('out.png', dpi=100)
